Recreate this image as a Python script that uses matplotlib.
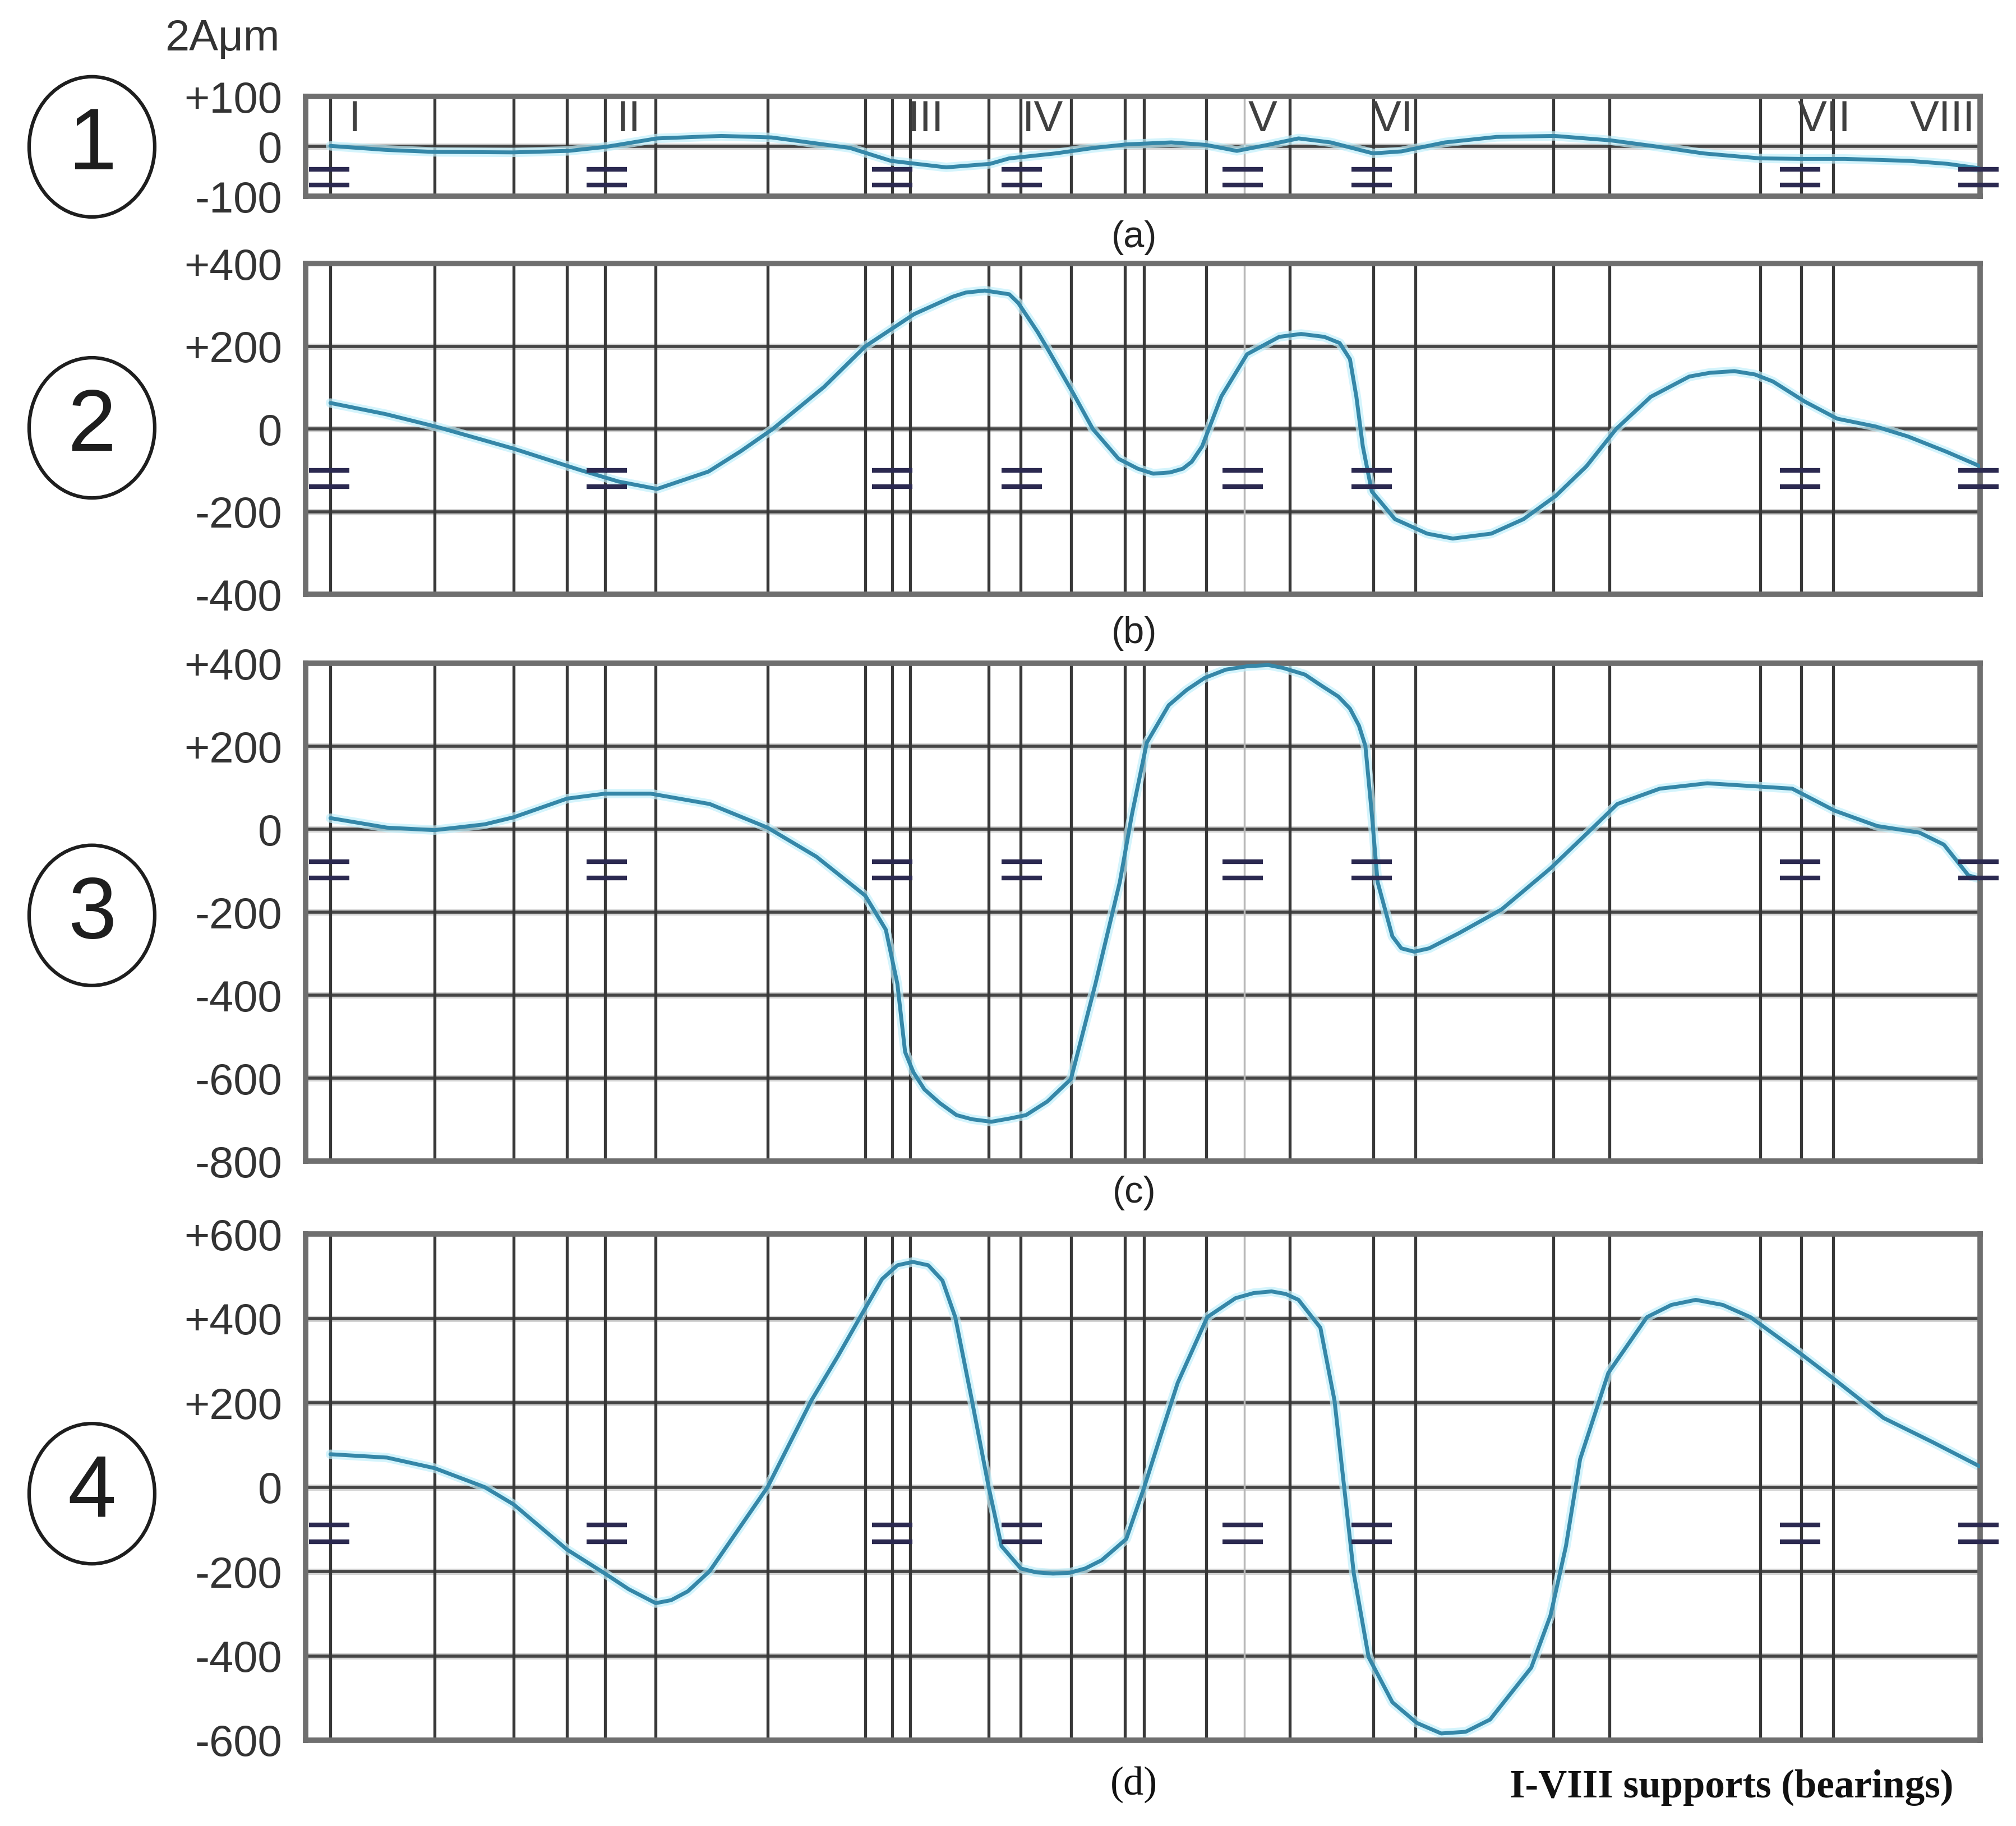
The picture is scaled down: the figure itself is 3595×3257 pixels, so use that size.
import matplotlib.pyplot as plt
from matplotlib.patches import Ellipse

# positions along the shaft (arbitrary units)
x_lim = (237.7, 1540)
grid_x = [257, 338, 399.5, 441, 470.6, 510, 597, 673, 694, 708, 769, 794, 833,
          875, 890, 938, 1003, 1068, 1101, 1208, 1252, 1369, 1401, 1426]
faint_x = [968]
bearing_x = [256, 472, 694, 794.5, 966.5, 1067, 1400, 1539]
bearing_names = ['I', 'II', 'III', 'IV', 'V', 'VI', 'VII', 'VIII']
name_x = [276, 489, 720, 811, 982, 1083, 1419, 1511]

# (a)
a_x = [257, 300, 337, 399, 442, 471, 511, 561, 600, 629, 661, 693, 736, 770, 785, 821,
       851, 876, 911, 938, 962, 986, 1010, 1035, 1068, 1090, 1124, 1164, 1209, 1253,
       1285, 1325, 1369, 1401, 1435, 1485, 1515, 1540]
a_y = [1, -7, -11, -12, -9, -1, 16, 21, 18, 8, -3, -29, -42, -35, -24, -14,
       -3, 4, 8, 3, -9, 3, 16, 8, -14, -10, 8, 19, 21, 12,
       1, -14, -24, -25, -25, -29, -35, -44]

# (b)
b_x = [257, 300, 340, 400, 450, 481, 511, 551, 576, 601, 641, 673, 711, 741, 751, 766,
       785, 792, 807, 815, 835, 850, 870, 885, 897, 910, 920, 927, 935, 950, 970, 995,
       1012, 1030, 1042, 1050, 1055, 1060, 1067, 1085, 1110, 1130, 1160, 1185, 1210,
       1234, 1257, 1284, 1314, 1330, 1349, 1365, 1379, 1404, 1429, 1459, 1484, 1514, 1540]
b_y = [63, 36, 5, -48, -98, -127, -145, -103, -54, 0, 102, 200, 278, 320, 330, 335,
       326, 305, 235, 193, 85, 0, -72, -96, -108, -105, -96, -79, -42, 79, 181, 223,
       230, 223, 208, 169, 78, -42, -151, -218, -253, -265, -253, -218, -162,
       -90, 0, 78, 127, 136, 140, 132, 115, 66, 25, 6, -18, -55, -90]

# (c)
c_x = [257, 301, 338, 377, 399.5, 441, 470.6, 506, 552, 597, 635, 673, 689, 698, 704,
       710.5, 719, 731, 744, 756, 771, 785.6, 798, 814.7, 833, 852, 871, 880.5, 892, 909,
       923, 937, 953.5, 970, 986.5, 998, 1015, 1027, 1041, 1050, 1057, 1062, 1067, 1071.5,
       1083, 1090, 1100, 1111.6, 1135, 1168, 1206, 1239, 1258, 1291, 1328, 1394,
       1427, 1460, 1493, 1512, 1531, 1540]
c_y = [27, 4, -2, 12, 29, 74, 86, 86, 61, 4, -66, -160, -242, -373, -537,
       -586, -627, -660, -689, -699, -705, -697, -689, -656, -602, -373, -127, 37, 209, 299,
       336, 365, 385, 393, 396, 389, 373, 348, 320, 291, 250, 201, 37, -127,
       -258, -287, -295, -287, -250, -193, -94, 4, 61, 98, 111, 98,
       45, 8, -8, -37, -111, -119]

# (d)
d_x = [257, 301, 338, 377, 399.5, 441, 470.6, 489, 510, 522, 535, 552, 597, 631, 652,
       669, 686, 698, 710, 722, 733, 743, 756, 769, 779, 794, 806, 819, 832, 844, 857,
       876, 890, 902, 916, 939, 961, 975, 989, 1000, 1010, 1027, 1038, 1045.5, 1053,
       1064.5, 1083, 1102, 1121, 1140, 1159, 1191, 1206, 1218, 1229, 1251, 1281, 1300,
       1319, 1340, 1361.5, 1399, 1427, 1465, 1503, 1540]
d_y = [78, 70, 45, 0, -41, -148, -205, -242, -275, -268, -247, -199, 0, 205, 312,
       403, 493, 526, 534, 526, 490, 403, 205, 0, -140, -193, -202, -205, -203, -193, -173,
       -123, 0, 115, 247, 403, 448, 460, 464, 458, 444, 378, 205, 0, -205,
       -403, -510, -559, -584, -580, -551, -428, -304, -140, 66, 271, 403, 432,
       444, 432, 403, 320, 255, 164, 107, 49]

ticks_a = [100, 0, -100]
ticks_b = [400, 200, 0, -200, -400]
ticks_c = [400, 200, 0, -200, -400, -600, -800]
ticks_d = [600, 400, 200, 0, -200, -400, -600]
mark_a = [-46, -77]
mark_b = [-100, -140]
mark_c = [-78, -117]
mark_d = [-89, -130]

SANS = ['Liberation Sans', 'DejaVu Sans']
SERIF = ['Liberation Serif', 'DejaVu Serif']

fig = plt.figure(figsize=(35.95, 32.57), dpi=100)

panels = [
    (a_x, a_y, ticks_a, mark_a, [0.8925, 0.05465], '(a)', 0.8698, 0.9196),
    (b_x, b_y, ticks_b, mark_b, [0.6745, 0.1811], '(b)', 0.6530, 0.7657),
    (c_x, c_y, ticks_c, mark_c, [0.3641, 0.2726], '(c)', 0.3466, 0.4987),
    (d_x, d_y, ticks_d, mark_d, [0.04698, 0.2772], '(d)', 0.0227, 0.1820),
]

for i, (xs, ys, ticks, marks, (bot, hgt), cap, cap_y, circ_y) in enumerate(panels):
    ax = fig.add_axes([0.1516, bot, 0.8305, hgt])
    ax.set_xlim(*x_lim)
    ax.set_ylim(min(ticks), max(ticks))
    ax.set_xticks([])
    ax.set_yticks(ticks)
    ax.set_yticklabels(['+%d' % t if t > 0 else ('-%d' % -t if t < 0 else '0') for t in ticks],
                       family=SANS, fontsize=56, color='#333333')
    ax.tick_params(axis='y', length=0, pad=30)
    for sp in ax.spines.values():
        sp.set_color('#6f6f6f')
        sp.set_linewidth(7)

    for t in ticks[1:-1]:
        ax.axhline(t, color='#d4d4d4', lw=8, zorder=1)
        ax.axhline(t, color='#454545', lw=4, zorder=1.2)
    for gx in grid_x:
        ax.axvline(gx, color='#383838', lw=3.8, zorder=1.5)
    for gx in faint_x:
        ax.axvline(gx, color='#b8b8b8', lw=2.5, zorder=1.5)

    ax.plot(xs, ys, color='#c2f0fb', lw=12, alpha=0.7, zorder=2,
            solid_joinstyle='round', solid_capstyle='round')
    ax.plot(xs, ys, color='#3587a8', lw=5, zorder=3,
            solid_joinstyle='round', solid_capstyle='round')

    for my in marks:
        ax.plot(bearing_x, [my] * len(bearing_x), ls='none', marker='_', ms=52, mew=6,
                color='#2b2950', zorder=4, clip_on=False)

    if i == 0:
        for nx, nm in zip(name_x, bearing_names):
            ax.text(nx, 53, nm, ha='center', va='center', family=SANS,
                    fontsize=56, color='#404040', zorder=5)

    # numbered circle on the left
    fig.add_artist(Ellipse((0.0456, circ_y), 0.0623, 0.0768, transform=fig.transFigure,
                           fill=False, ec='#1e1e1e', lw=4.5))
    fig.text(0.0456, circ_y, str(i + 1), ha='center', va='center',
             family=SANS, fontsize=112, color='#1e1e1e')

    if i < 3:
        fig.text(0.5625, cap_y, cap, ha='center', va='center', family=SANS,
                 fontsize=48, color='#222222')
    else:
        fig.text(0.5625, cap_y, cap, ha='center', va='center',
                 family=SERIF, fontsize=52, color='#111111')

fig.text(0.1388, 0.9788, '2A\u03bcm', ha='right', va='center', family=SANS,
         fontsize=56, color='#333333')
fig.text(0.9691, 0.0210, 'I-VIII supports (bearings)', ha='right', va='center',
         family=SERIF, fontweight='bold', fontsize=51, color='#111111')

fig.savefig('out.png', dpi=100, facecolor='white')
